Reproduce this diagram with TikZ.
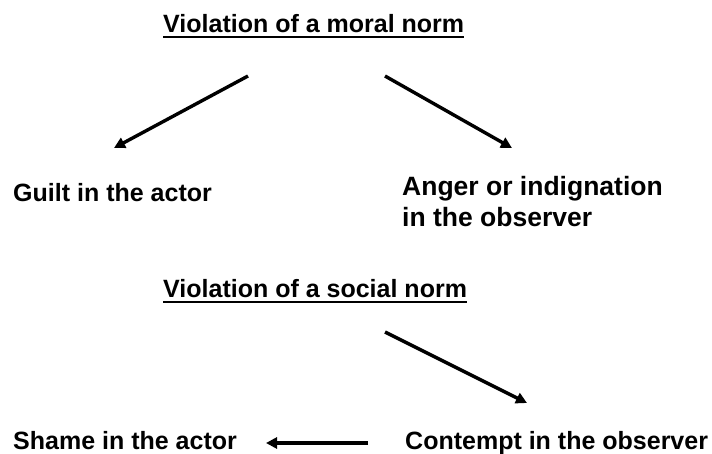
\documentclass[tikz,border=0pt]{standalone}
\usepackage{fontspec}
\setmainfont{Liberation Sans}
\usetikzlibrary{arrows.meta}
\begin{document}
\begin{tikzpicture}[x=1pt,y=1pt,
  lbl/.style={inner sep=0pt,font=\fontsize{25}{31}\selectfont\bfseries,text=black},
  arr/.style={line width=3.4pt,-{Triangle[length=11pt,width=11pt]}},
  uline/.style={line width=2pt}]
\useasboundingbox[fill=white] (0,0) rectangle (712,453);
% titles
\node[lbl,anchor=base west] (moral) at (163,420) {Violation of a moral norm};
\draw[uline] ([yshift=-4.5pt]moral.base west) -- ([yshift=-4.5pt]moral.base east);
\node[lbl,anchor=base west] (social) at (163,156) {Violation of a social norm};
\draw[uline] ([yshift=-4.5pt]social.base west) -- ([yshift=-4.5pt]social.base east);
% outcomes
\node[lbl,anchor=base west] (guilt) at (13,251) {Guilt in the actor};
\node[lbl,anchor=north west,align=left,font=\fontsize{26.5}{31}\selectfont\bfseries] (anger) at (402,277) {Anger or indignation\\in the observer};
\node[lbl,anchor=base west] (shame) at (13,4) {Shame in the actor};
\node[lbl,anchor=base west] (contempt) at (405,4) {Contempt in the observer};
% arrow end points
\coordinate (a1s) at (248,377); \coordinate (a1e) at (114,305);
\coordinate (a2s) at (385,377); \coordinate (a2e) at (512,305);
\coordinate (a3s) at (385,121); \coordinate (a3e) at (527,50);
\coordinate (a4s) at (368,10);  \coordinate (a4e) at (266,10);
\draw[arr] (a1s) -- (a1e);
\draw[arr] (a2s) -- (a2e);
\draw[arr] (a3s) -- (a3e);
\draw[arr] (a4s) -- (a4e);
\end{tikzpicture}
\end{document}
